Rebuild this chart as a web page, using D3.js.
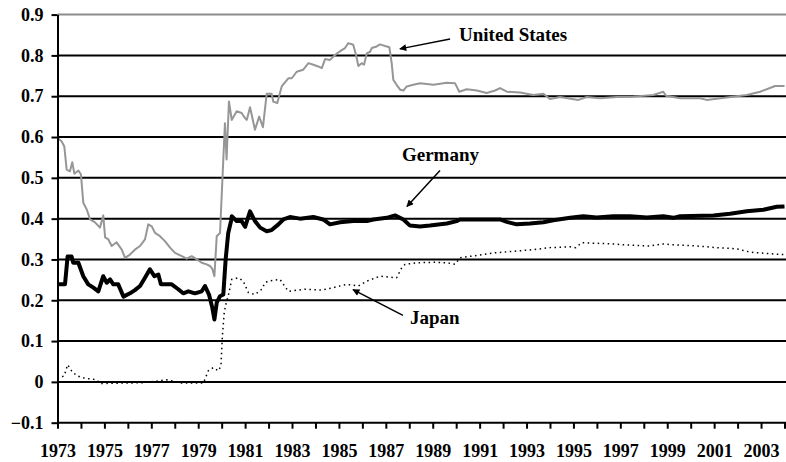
<!DOCTYPE html>
<html>
<head>
<meta charset="UTF-8">
<script src="https://d3js.org/d3.v7.min.js"></script>
<style>
  body { margin: 0; background: #fff; }
  svg text { font-family: "Liberation Serif", "Times New Roman", serif; font-weight: bold; fill: #000; }
</style>
</head>
<body>
<svg width="786" height="462"></svg>
<script>

// DATA  [decimal year, value]

var usData = [[1973.0,0.598],[1973.18,0.589],[1973.29,0.577],[1973.39,0.52],[1973.53,0.516],[1973.63,0.538],[1973.72,0.51],[1973.89,0.518],[1974.0,0.508],[1974.1,0.439],[1974.25,0.422],[1974.39,0.398],[1974.6,0.391],[1974.81,0.378],[1974.95,0.408],[1975.03,0.354],[1975.17,0.349],[1975.31,0.333],[1975.52,0.342],[1975.74,0.324],[1975.88,0.304],[1976.09,0.312],[1976.3,0.324],[1976.52,0.333],[1976.73,0.349],[1976.87,0.386],[1977.02,0.381],[1977.16,0.365],[1977.37,0.357],[1977.58,0.345],[1977.8,0.329],[1978.01,0.316],[1978.3,0.308],[1978.51,0.302],[1978.72,0.308],[1978.94,0.3],[1979.15,0.292],[1979.36,0.288],[1979.5,0.284],[1979.6,0.277],[1979.69,0.259],[1979.79,0.357],[1979.93,0.365],[1980.07,0.545],[1980.14,0.634],[1980.21,0.545],[1980.31,0.687],[1980.43,0.642],[1980.64,0.663],[1980.85,0.659],[1981.0,0.646],[1981.07,0.642],[1981.21,0.673],[1981.42,0.618],[1981.6,0.65],[1981.76,0.624],[1981.92,0.706],[1982.13,0.706],[1982.2,0.687],[1982.37,0.683],[1982.56,0.724],[1982.84,0.744],[1982.99,0.744],[1983.2,0.76],[1983.48,0.765],[1983.7,0.781],[1983.91,0.777],[1984.12,0.773],[1984.27,0.769],[1984.41,0.791],[1984.62,0.789],[1984.76,0.797],[1984.97,0.807],[1985.12,0.813],[1985.26,0.818],[1985.4,0.83],[1985.61,0.826],[1985.73,0.801],[1985.83,0.774],[1985.97,0.781],[1986.07,0.777],[1986.19,0.805],[1986.33,0.809],[1986.4,0.818],[1986.61,0.822],[1986.75,0.827],[1986.97,0.823],[1987.15,0.82],[1987.25,0.781],[1987.32,0.74],[1987.46,0.728],[1987.61,0.716],[1987.75,0.714],[1987.89,0.724],[1988.17,0.728],[1988.46,0.732],[1989.03,0.728],[1989.6,0.733],[1989.95,0.732],[1990.13,0.711],[1990.45,0.717],[1990.88,0.714],[1991.3,0.708],[1991.66,0.714],[1991.87,0.72],[1992.16,0.711],[1992.72,0.709],[1993.29,0.703],[1993.72,0.706],[1994.0,0.693],[1994.43,0.698],[1995.21,0.691],[1995.57,0.698],[1996.13,0.695],[1996.85,0.698],[1997.55,0.699],[1998.41,0.703],[1998.83,0.711],[1998.95,0.701],[1999.55,0.695],[2000.4,0.695],[2000.68,0.691],[2001.54,0.697],[2002.39,0.703],[2002.96,0.711],[2003.38,0.72],[2003.6,0.725],[2004.0,0.725]];

var germanyData = [[1973.0,0.239],[1973.32,0.239],[1973.43,0.307],[1973.6,0.307],[1973.67,0.292],[1973.89,0.292],[1974.1,0.259],[1974.31,0.239],[1974.53,0.231],[1974.74,0.222],[1974.95,0.259],[1975.1,0.243],[1975.24,0.251],[1975.38,0.239],[1975.59,0.239],[1975.81,0.209],[1976.09,0.217],[1976.3,0.225],[1976.52,0.235],[1976.73,0.255],[1976.94,0.276],[1977.13,0.259],[1977.3,0.263],[1977.41,0.239],[1977.87,0.239],[1978.15,0.227],[1978.36,0.217],[1978.58,0.222],[1978.86,0.217],[1979.15,0.222],[1979.29,0.235],[1979.46,0.214],[1979.6,0.182],[1979.69,0.153],[1979.79,0.194],[1979.93,0.21],[1980.07,0.214],[1980.17,0.3],[1980.28,0.365],[1980.4,0.394],[1980.43,0.406],[1980.64,0.394],[1980.85,0.394],[1981.0,0.38],[1981.21,0.418],[1981.42,0.394],[1981.64,0.378],[1981.92,0.369],[1982.13,0.372],[1982.42,0.386],[1982.63,0.398],[1982.91,0.404],[1983.34,0.4],[1983.91,0.404],[1984.33,0.398],[1984.62,0.386],[1985.05,0.391],[1985.61,0.394],[1986.19,0.394],[1986.47,0.398],[1987.04,0.402],[1987.39,0.408],[1987.75,0.398],[1988.03,0.383],[1988.46,0.381],[1988.88,0.383],[1989.6,0.388],[1990.02,0.394],[1990.16,0.398],[1990.73,0.398],[1991.87,0.398],[1992.16,0.392],[1992.58,0.386],[1993.15,0.388],[1993.72,0.391],[1994.14,0.396],[1994.86,0.402],[1995.42,0.406],[1995.99,0.403],[1996.7,0.406],[1997.41,0.406],[1998.13,0.403],[1998.83,0.406],[1999.26,0.402],[1999.55,0.406],[2000.97,0.408],[2001.68,0.412],[2002.39,0.418],[2003.1,0.422],[2003.67,0.429],[2004.0,0.43]];

var japanData = [[1973.0,0.008],[1973.29,0.015],[1973.43,0.042],[1973.6,0.027],[1973.82,0.015],[1974.17,0.009],[1974.67,0.005],[1974.81,-0.004],[1975.74,-0.003],[1976.66,-0.002],[1977.66,0.005],[1978.3,-0.003],[1979.22,-0.003],[1979.43,0.027],[1979.64,0.035],[1979.86,0.027],[1979.97,0.039],[1980.03,0.112],[1980.11,0.17],[1980.21,0.198],[1980.28,0.21],[1980.43,0.251],[1980.71,0.255],[1980.92,0.247],[1981.14,0.219],[1981.42,0.214],[1981.71,0.227],[1981.85,0.243],[1981.99,0.247],[1982.49,0.251],[1982.84,0.222],[1983.55,0.227],[1984.27,0.225],[1984.76,0.231],[1985.33,0.239],[1985.83,0.235],[1986.19,0.247],[1986.75,0.259],[1987.46,0.255],[1987.68,0.28],[1987.82,0.288],[1988.32,0.292],[1989.03,0.293],[1989.6,0.292],[1989.95,0.288],[1990.16,0.304],[1990.88,0.31],[1991.58,0.316],[1992.44,0.32],[1993.29,0.324],[1994.0,0.329],[1994.86,0.331],[1995.1,0.329],[1995.35,0.341],[1996.7,0.338],[1997.41,0.335],[1998.27,0.333],[1998.76,0.338],[1999.55,0.335],[2000.26,0.333],[2001.11,0.329],[2001.96,0.326],[2002.53,0.318],[2003.38,0.314],[2004.0,0.312]];

var yTicks = [-0.1, 0, 0.1, 0.2, 0.3, 0.4, 0.5, 0.6, 0.7, 0.8, 0.9];
var yearTicks = d3.range(1973, 2005);
var yearLabels = d3.range(1973, 2004, 2);

// label text, [text x year, text y value], arrow from [year, value] to [year, value]
var notes = [
  { label: "United States", at: [1990.12, 0.835], from: [1989.74, 0.84], to: [1987.6, 0.816] },
  { label: "Germany", at: [1989.33, 0.542], anchor: "middle", from: [1989.31, 0.518], to: [1987.9, 0.43] },
  { label: "Japan", at: [1988.03, 0.141], from: [1987.73, 0.163], to: [1985.6, 0.226] }
];

// SETUP

var svg = d3.select("svg");
var x = d3.scaleLinear().domain([1973, 2004]).range([57.5, 784.5]);
var y = d3.scaleLinear().domain([-0.1, 0.9]).range([422.7, 14.6]);

svg.append("defs").append("marker")
    .attr("id", "arrow")
    .attr("viewBox", "0 0 10 10")
    .attr("refX", 9).attr("refY", 5)
    .attr("markerWidth", 9).attr("markerHeight", 7)
    .attr("markerUnits", "userSpaceOnUse")
    .attr("orient", "auto")
  .append("path")
    .attr("d", "M0,0L10,5L0,10z")
    .attr("fill", "#000");

// gridlines
svg.append("g").selectAll("line")
  .data(yTicks.filter(function (d) { return d > -0.1; }))
  .enter().append("line")
    .attr("x1", x(1973)).attr("x2", 786)
    .attr("y1", function (d) { return y(d); })
    .attr("y2", function (d) { return y(d); })
    .attr("stroke", function (d) { return d === 0.9 ? "#8c8c8c" : "#000"; })
    .attr("stroke-width", 2);

// LINES

var line = d3.line()
  .x(function (d) { return x(d[0]); })
  .y(function (d) { return y(d[1]); });

svg.append("path").datum(usData)
  .attr("d", line).attr("fill", "none")
  .attr("stroke", "#969696").attr("stroke-width", 2).attr("stroke-linejoin", "round");

svg.append("path").datum(japanData)
  .attr("d", line).attr("fill", "none")
  .attr("stroke", "#000").attr("stroke-width", 1.5).attr("stroke-dasharray", "1.5,3.5");

svg.append("path").datum(germanyData)
  .attr("d", line).attr("fill", "none")
  .attr("stroke", "#000").attr("stroke-width", 4).attr("stroke-linejoin", "round");

// AXES

var yAxis = svg.append("g")
  .attr("transform", "translate(" + x(1973) + ",0)")
  .call(d3.axisLeft(y).tickValues(yTicks).tickSize(6).tickSizeOuter(0).tickPadding(8)
    .tickFormat(function (d) { return d === 0 ? "0" : (d < 0 ? "\u2212" : "") + Math.abs(d).toFixed(1); }));

var xAxis = svg.append("g")
  .attr("transform", "translate(0," + y(-0.1) + ")")
  .call(d3.axisBottom(x).tickValues(yearTicks).tickSize(6).tickSizeOuter(0).tickPadding(16)
    .tickFormat(function (d) { return yearLabels.indexOf(d) >= 0 ? d : ""; }));

[yAxis, xAxis].forEach(function (a) {
  a.attr("font-family", "Liberation Serif").attr("font-size", 18).attr("font-weight", "bold");
  a.select(".domain").attr("stroke", "#000").attr("stroke-width", 2);
  a.selectAll(".tick line").attr("stroke", "#000").attr("stroke-width", 2);
  a.selectAll("text").attr("fill", "#000");
});
xAxis.select(".domain").attr("d", "M" + x(1973) + ",0H786");

// ANNOTATIONS

var ng = svg.append("g");
notes.forEach(function (n) {
  ng.append("line")
    .attr("x1", x(n.from[0])).attr("y1", y(n.from[1]))
    .attr("x2", x(n.to[0])).attr("y2", y(n.to[1]))
    .attr("stroke", "#000").attr("stroke-width", 1.5)
    .attr("marker-end", "url(#arrow)");
  ng.append("text")
    .attr("x", x(n.at[0])).attr("y", y(n.at[1]))
    .attr("text-anchor", n.anchor || "start")
    .style("font-size", "19px")
    .text(n.label);
});

</script>
</body>
</html>
